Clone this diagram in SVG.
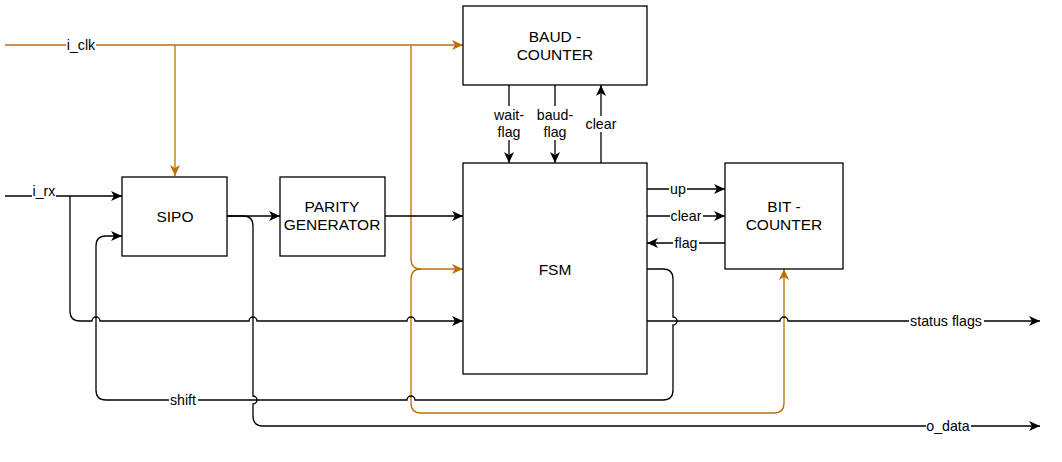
<svg xmlns="http://www.w3.org/2000/svg" width="1062" height="462" viewBox="0 0 1062 462">
<style>
.box{fill:#fff;stroke:#000;stroke-width:1.3}
.bt{font-family:"Liberation Sans",Arial,sans-serif;font-size:15.5px;fill:#000;text-anchor:middle;dominant-baseline:central}
.lt{font-family:"Liberation Sans",Arial,sans-serif;font-size:14.2px;fill:#000;text-anchor:middle;dominant-baseline:central}
.w{stroke:none;fill:#fff}
.k{fill:none;stroke:#000;stroke-width:1.3}
.o{fill:none;stroke:#BD7000;stroke-width:1.3}
.ka{marker-end:url(#ak)}
.oa{marker-end:url(#ao)}
</style>
<defs>
<marker id="ak" markerUnits="userSpaceOnUse" markerWidth="12" markerHeight="10" refX="11" refY="5" orient="auto" overflow="visible">
<path d="M0,0 L11,5 L0,10 L3,5 Z" fill="#000"/>
</marker>
<marker id="ao" markerUnits="userSpaceOnUse" markerWidth="12" markerHeight="10" refX="11" refY="5" orient="auto" overflow="visible">
<path d="M0,0 L11,5 L0,10 L3,5 Z" fill="#BD7000"/>
</marker>
</defs>
<rect width="1062" height="462" fill="#fff"/>

<g id="connectors">
<!-- clock -->
<path class="o oa" d="M5,45 H463"/>
<path class="o oa" d="M175,45 V176"/>
<path class="o oa" d="M411,45 V259 Q411,269 421,269 H463"/>
<path class="o oa" d="M421,269 Q411,269 411,279 V403 Q411,413 421,413 H774 Q784,413 784,403 V269"/>
<!-- i_rx -->
<path class="k ka" d="M5,196 H122"/>
<path class="k ka" d="M70,196 V311 Q70,321 80,321 H92 A4,4 0 0 1 100,321 H249 A4,4 0 0 1 257,321 H407 A4,4 0 0 1 415,321 H463"/>
<!-- SIPO -> parity -->
<path class="k ka" d="M227,216 H280"/>
<!-- o_data -->
<path class="k ka" d="M227,216 H243 Q253,216 253,226 V396 A4,4 0 0 1 253,404 V416 Q253,426 263,426 H1040"/>
<!-- parity -> FSM -->
<path class="k ka" d="M385,216 H463"/>
<!-- shift -->
<path class="k ka" d="M647,269 H663 Q673,269 673,279 V317 A4,4 0 0 1 673,325 V390 Q673,400 663,400 H415 A4,4 0 0 0 407,400 H106 Q96,400 96,390 V246 Q96,236 106,236 H122"/>
<!-- status flags -->
<path class="k ka" d="M647,321 H780 A4,4 0 0 1 788,321 H1040"/>
<!-- baud counter signals -->
<path class="k ka" d="M509,85 V163"/>
<path class="k ka" d="M555,85 V163"/>
<path class="k ka" d="M601,163 V85"/>
<!-- bit counter signals -->
<path class="k ka" d="M647,189 H725"/>
<path class="k ka" d="M647,216 H725"/>
<path class="k ka" d="M725,243 H647"/>

<!-- labels -->
<rect class="w" x="66" y="37" width="30" height="16"/>
<text class="lt" x="81" y="45">i_clk</text>
<rect class="w" x="32" y="184" width="24" height="16"/>
<text class="lt" x="44" y="191">i_rx</text>
<rect class="w" x="169" y="392" width="29" height="16"/>
<text class="lt" x="183" y="400">shift</text>
<rect class="w" x="909" y="313" width="75" height="16"/>
<text class="lt" x="946" y="321">status flags</text>
<rect class="w" x="926" y="418" width="45" height="16"/>
<text class="lt" x="948" y="426">o_data</text>
<rect class="w" x="493" y="106" width="32" height="34"/>
<text class="lt" x="509" y="115">wait-</text>
<text class="lt" x="509" y="132">flag</text>
<rect class="w" x="536" y="106" width="38" height="34"/>
<text class="lt" x="555" y="115">baud-</text>
<text class="lt" x="555" y="132">flag</text>
<rect class="w" x="584" y="116" width="34" height="16"/>
<text class="lt" x="601" y="124">clear</text>
<rect class="w" x="669" y="181" width="18" height="16"/>
<text class="lt" x="678" y="189">up</text>
<rect class="w" x="670" y="208" width="33" height="16"/>
<text class="lt" x="686" y="216">clear</text>
<rect class="w" x="673" y="235" width="26" height="16"/>
<text class="lt" x="686" y="243">flag</text>
</g>

<g id="baud">
<rect class="box" x="463" y="6" width="184" height="79"/>
<text class="bt" x="555" y="36">BAUD -</text>
<text class="bt" x="555" y="54">COUNTER</text>
</g>
<g id="fsm">
<rect class="box" x="463" y="163" width="184" height="211"/>
<text class="bt" x="555" y="269">FSM</text>
</g>
<g id="sipo">
<rect class="box" x="122" y="177" width="105" height="79"/>
<text class="bt" x="175" y="216">SIPO</text>
</g>
<g id="parity">
<rect class="box" x="280" y="177" width="105" height="79"/>
<text class="bt" x="332" y="206">PARITY</text>
<text class="bt" x="332" y="224">GENERATOR</text>
</g>
<g id="bitcounter">
<rect class="box" x="725" y="163" width="118" height="106"/>
<text class="bt" x="784" y="206">BIT -</text>
<text class="bt" x="784" y="224">COUNTER</text>
</g>
</svg>
